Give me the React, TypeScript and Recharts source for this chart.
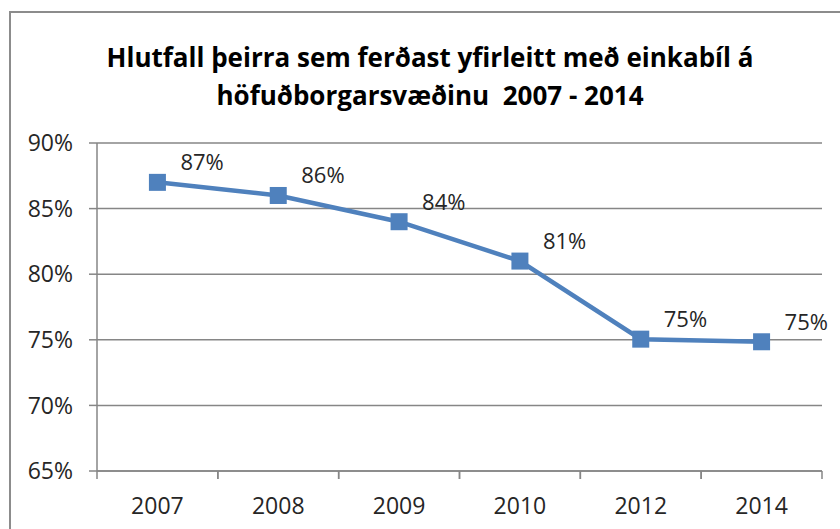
import React from 'react';
import { LineChart, Line, XAxis, YAxis, CartesianGrid, LabelList } from 'recharts';

const years = ['2007', '2008', '2009', '2010', '2012', '2014'];
const share = [87, 86, 84, 81, 75.05, 74.85];
const yTicks = [65, 70, 75, 80, 85, 90];
const titleLines = [
  'Hlutfall þeirra sem ferðast yfirleitt með einkabíl á',
  'höfuðborgarsvæðinu  2007 - 2014',
];

const data = years.map((year, i) => ({ year, share: share[i] }));

const FONT = '"Open Sans", sans-serif';
const BLUE = '#4f81bd';
const GRID = '#868686';
const TEXT = '#262626';
const TICK = 8;
const TICK_GAP = 19;

const renderLabel = (props: any) => {
  const { x, y, value } = props;
  return (
    <text x={x + 23} y={y - 12} fontSize={22} fontFamily={FONT} fill={TEXT}>
      {Math.round(value) + '%'}
    </text>
  );
};

const squareDot = (props: any) => {
  const { cx, cy, index } = props;
  return <rect key={index} x={cx - 8.5} y={cy - 8.5} width={17} height={17} fill={BLUE} />;
};

// category label centred in its band, with tick marks on the band edges (Excel style)
const YearTick = (props: any) => {
  const { x, y, payload } = props;
  const half = payload.offset || 0;
  const axisY = y - TICK - TICK_GAP;
  return (
    <g>
      <line x1={x - half} x2={x - half} y1={axisY} y2={axisY + TICK} stroke={GRID} strokeWidth={1.5} />
      <line x1={x + half} x2={x + half} y1={axisY} y2={axisY + TICK} stroke={GRID} strokeWidth={1.5} />
      <text x={x} y={y} dy="0.71em" textAnchor="middle" fontSize={23} fontFamily={FONT} fill={TEXT}>
        {payload.value}
      </text>
    </g>
  );
};

export default function App() {
  return (
    <div style={{ position: 'absolute', left: 0, top: 0, width: 840, height: 529, background: '#fff', overflow: 'hidden' }}>
      <div
        style={{
          position: 'absolute',
          left: 9,
          top: 11,
          width: 860,
          height: 560,
          border: '2px solid #8c8c8c',
          boxSizing: 'border-box',
        }}
      />
      <div
        style={{
          position: 'absolute',
          left: 0,
          top: 38,
          width: 860,
          textAlign: 'center',
          fontFamily: FONT,
          fontWeight: 700,
          fontSize: 26,
          lineHeight: '38px',
          color: '#000',
        }}
      >
        {titleLines.map((t) => (
          <div key={t} style={{ whiteSpace: 'pre' }}>{t}</div>
        ))}
      </div>
      <div style={{ position: 'absolute', left: 0, top: 0 }}>
        <LineChart width={840} height={529} data={data} margin={{ top: 143, right: 18, bottom: 18, left: 0 }}>
          <CartesianGrid vertical={false} stroke={GRID} strokeWidth={1.5} />
          <XAxis
            dataKey="year"
            scale="band"
            height={40}
            stroke={GRID}
            strokeWidth={1.5}
            tickLine={false}
            tickSize={TICK}
            tickMargin={TICK_GAP}
            interval={0}
            tick={<YearTick />}
          />
          <YAxis
            domain={[65, 90]}
            ticks={yTicks}
            width={97}
            stroke={GRID}
            strokeWidth={1.5}
            tickSize={TICK}
            tickMargin={16}
            tickFormatter={(v: number) => v + '%'}
            tick={{ fontSize: 23, fontFamily: FONT, fill: TEXT }}
          />
          <Line
            dataKey="share"
            stroke={BLUE}
            strokeWidth={4.5}
            dot={squareDot}
            activeDot={false}
            isAnimationActive={false}
          >
            <LabelList dataKey="share" content={renderLabel} />
          </Line>
        </LineChart>
      </div>
    </div>
  );
}
